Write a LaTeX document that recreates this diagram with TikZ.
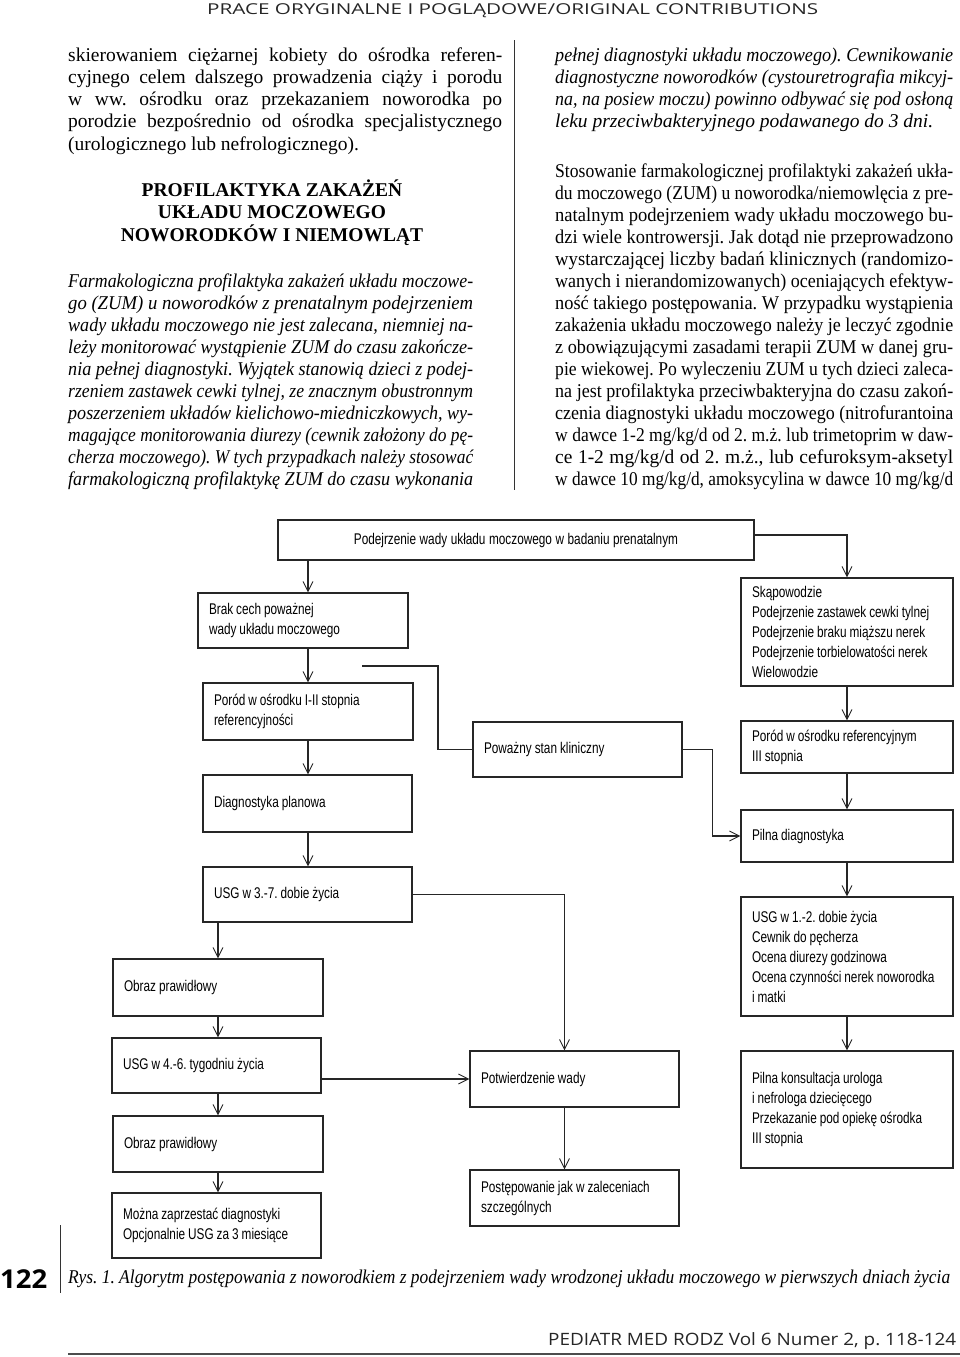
\documentclass[tikz,border=0pt]{standalone}
\usepackage{fontspec}
\usepackage{graphicx}
\usetikzlibrary{arrows.meta,calc}
\setmainfont{Liberation Serif}
\newfontfamily\flowfont[FakeStretch=0.76]{Liberation Sans}
\newfontfamily\hdrfont{Open Sans}
\frenchspacing
\newlength\jlw
\newcommand\jline[2]{\settowidth\jlw{#2}\ifdim\jlw>#1\relax\resizebox{#1}{\height}{#2}\else\makebox[#1][s]{#2}\fi}
\newcommand\fitline[2]{\resizebox{#1}{\height}{#2}}
\newcommand\wsp{\hspace{3.6pt}}
\newcommand\flowbox[7][align=left]{%
  \pgfmathsetlengthmacro\fbw{(#5-#3)*1pt-22pt}%
  \node[box,#1,minimum width={(#5-#3)*1pt},minimum height={(#6-#4)*1pt},text width=\fbw] (#2) at ({(#3+#5)/2},{(#4+#6)/2}) {#7};}
\tikzset{
  box/.style={draw=black!85, line width=1.1pt, inner xsep=11pt, inner ysep=0pt,
    font=\flowfont\fontsize{15.5}{20}\selectfont,
    execute at begin node={\spaceskip=3pt plus 1pt\relax}},
  arr/.style={-{Straight Barb[length=10pt,width=10pt,line width=0.9pt]}, line width=1.1pt, draw=black!85},
  conn/.style={line width=1.1pt, draw=black!85},
  bl/.style={anchor=base west, inner sep=0pt, font=\fontsize{19.5}{22}\selectfont},
  il/.style={anchor=base west, inner sep=0pt, font=\fontsize{19.5}{22}\selectfont\itshape},
  ttl/.style={anchor=base, inner sep=0pt, font=\fontsize{19.5}{22}\selectfont\bfseries}
}
\begin{document}
\begin{tikzpicture}[x=1pt,y=-1pt]
\fill[white] (0,0) rectangle (960,1357);
\useasboundingbox (0,0) rectangle (960,1357);

% header
\node[anchor=base west, inner sep=0pt, font=\hdrfont\fontsize{15}{18}\selectfont, text=black!85] (hdr) at (207,14)
  {\fitline{611pt}{PRACE ORYGINALNE I POGLĄDOWE/ORIGINAL CONTRIBUTIONS}};

% column divider
\draw[line width=1pt, black!80] (514,40) -- (514,490);

% left column, paragraph 1
\node[bl] (a1) at (68,61) {\jline{434pt}{skierowaniem ciężarnej kobiety do ośrodka referen-}};
\node[bl] (a2) at (68,83) {\jline{434pt}{cyjnego celem dalszego prowadzenia ciąży i porodu}};
\node[bl] (a3) at (68,105) {\jline{434pt}{w ww. ośrodku oraz przekazaniem noworodka po}};
\node[bl] (a4) at (68,127) {\jline{434pt}{porodzie bezpośrednio od ośrodka specjalistycznego}};
\node[bl] (a5) at (68,150) {(urologicznego lub nefrologicznego).};

% title
\node[ttl] (t1) at (272,196) {PROFILAKTYKA ZAKAŻEŃ};
\node[ttl] (t2) at (272,218) {UKŁADU MOCZOWEGO};
\node[ttl] (t3) at (272,241) {NOWORODKÓW I NIEMOWLĄT};

% left italic paragraph
\node[il] (b1) at (68,287) {\jline{405pt}{Farmakologiczna profilaktyka zakażeń układu moczowe-}};
\node[il] (b2) at (68,309) {\jline{405pt}{go (ZUM) u noworodków z prenatalnym podejrzeniem}};
\node[il] (b3) at (68,331) {\jline{405pt}{wady układu moczowego nie jest zalecana, niemniej na-}};
\node[il] (b4) at (68,353) {\jline{405pt}{leży monitorować wystąpienie ZUM do czasu zakończe-}};
\node[il] (b5) at (68,375) {\jline{405pt}{nia pełnej diagnostyki. Wyjątek stanowią dzieci z podej-}};
\node[il] (b6) at (68,397) {\jline{405pt}{rzeniem zastawek cewki tylnej, ze znacznym obustronnym}};
\node[il] (b7) at (68,419) {\jline{405pt}{poszerzeniem układów kielichowo-miedniczkowych, wy-}};
\node[il] (b8) at (68,441) {\jline{405pt}{magające monitorowania diurezy (cewnik założony do pę-}};
\node[il] (b9) at (68,463) {\jline{405pt}{cherza moczowego). W tych przypadkach należy stosować}};
\node[il] (b10) at (68,485) {\jline{405pt}{farmakologiczną profilaktykę ZUM do czasu wykonania}};

% right italic paragraph
\node[il] (c1) at (555,61) {\jline{398pt}{pełnej diagnostyki układu moczowego). Cewnikowanie}};
\node[il] (c2) at (555,83) {\jline{398pt}{diagnostyczne noworodków (cystouretrografia mikcyj-}};
\node[il] (c3) at (555,105) {\jline{398pt}{na, na posiew moczu) powinno odbywać się pod osłoną}};
\node[il] (c4) at (555,127) {leku przeciwbakteryjnego podawanego do 3 dni.};

% right roman paragraph
\node[bl] (d1) at (555,177) {\jline{398pt}{Stosowanie farmakologicznej profilaktyki zakażeń ukła-}};
\node[bl] (d2) at (555,199) {\jline{398pt}{du moczowego (ZUM) u noworodka/niemowlęcia z pre-}};
\node[bl] (d3) at (555,221) {\jline{398pt}{natalnym podejrzeniem wady układu moczowego bu-}};
\node[bl] (d4) at (555,243) {\jline{398pt}{dzi wiele kontrowersji. Jak dotąd nie przeprowadzono}};
\node[bl] (d5) at (555,265) {\jline{398pt}{wystarczającej liczby badań klinicznych (randomizo-}};
\node[bl] (d6) at (555,287) {\jline{398pt}{wanych i nierandomizowanych) oceniających efektyw-}};
\node[bl] (d7) at (555,309) {\jline{398pt}{ność takiego postępowania. W przypadku wystąpienia}};
\node[bl] (d8) at (555,331) {\jline{398pt}{zakażenia układu moczowego należy je leczyć zgodnie}};
\node[bl] (d9) at (555,353) {\jline{398pt}{z obowiązującymi zasadami terapii ZUM w danej gru-}};
\node[bl] (d10) at (555,375) {\jline{398pt}{pie wiekowej. Po wyleczeniu ZUM u tych dzieci zaleca-}};
\node[bl] (d11) at (555,397) {\jline{398pt}{na jest profilaktyka przeciwbakteryjna do czasu zakoń-}};
\node[bl] (d12) at (555,419) {\jline{398pt}{czenia diagnostyki układu moczowego (nitrofurantoina}};
\node[bl] (d13) at (555,441) {\jline{398pt}{w dawce 1-2 mg/kg/d od 2. m.ż. lub trimetoprim w daw-}};
\node[bl] (d14) at (555,463) {\jline{398pt}{ce 1-2 mg/kg/d od 2. m.ż., lub cefuroksym-aksetyl}};
\node[bl] (d15) at (555,485) {\jline{398pt}{w dawce 10 mg/kg/d, amoksycylina w dawce 10 mg/kg/d}};

% flowchart boxes
\flowbox[align=center]{top}{278}{520}{754}{560}{Podejrzenie\wsp wady\wsp układu\wsp moczowego\wsp w\wsp badaniu\wsp prenatalnym}
\flowbox{brak}{198}{593}{408}{648}{Brak cech poważnej\\wady układu moczowego}
\flowbox{porod12}{203}{683}{413}{740}{Poród w ośrodku I-II stopnia\\referencyjności}
\flowbox{diag}{203}{775}{412}{832}{Diagnostyka planowa}
\flowbox{usg37}{203}{867}{412}{922}{USG w 3.-7. dobie życia}
\flowbox{obraz1}{113}{959}{323}{1016}{Obraz prawidłowy}
\flowbox{usg46}{112}{1038}{321}{1093}{USG w 4.-6. tygodniu życia}
\flowbox{obraz2}{113}{1116}{323}{1172}{Obraz prawidłowy}
\flowbox{mozna}{112}{1193}{321}{1258}{Można zaprzestać diagnostyki\\Opcjonalnie USG za 3 miesiące}
\flowbox{powazny}{473}{722}{682}{777}{Poważny stan kliniczny}
\flowbox{potw}{470}{1051}{679}{1107}{Potwierdzenie wady}
\flowbox{postep}{470}{1170}{679}{1226}{Postępowanie jak w zaleceniach\\szczególnych}
\flowbox{skap}{741}{578}{953}{686}{Skąpowodzie\\Podejrzenie zastawek cewki tylnej\\Podejrzenie braku miąższu nerek\\Podejrzenie torbielowatości nerek\\Wielowodzie}
\flowbox{porodref}{741}{721}{953}{773}{Poród w ośrodku referencyjnym\\III stopnia}
\flowbox{pilnad}{741}{810}{953}{862}{Pilna diagnostyka}
\flowbox{usg12}{741}{897}{953}{1016}{USG w 1.-2. dobie życia\\Cewnik do pęcherza\\Ocena diurezy godzinowa\\Ocena czynności nerek noworodka\\i matki}
\flowbox{pilnak}{741}{1051}{953}{1168}{Pilna konsultacja urologa\\i nefrologa dziecięcego\\Przekazanie pod opiekę ośrodka\\III stopnia}

% connectors
\draw[arr] (porod12.north |- top.south) -- (porod12.north |- brak.north);
\draw[arr] (porod12.north |- brak.south) -- (porod12.north);
\draw[arr] (porod12.south) -- (porod12.south |- diag.north);
\draw[arr] (porod12.south |- diag.south) -- (porod12.south |- usg37.north);
\draw[arr] (obraz1.north |- usg37.south) -- (obraz1.north);
\draw[arr] (obraz1.south) -- (obraz1.south |- usg46.north);
\draw[arr] (obraz1.south |- usg46.south) -- (obraz1.south |- obraz2.north);
\draw[arr] (obraz1.south |- obraz2.south) -- (obraz1.south |- mozna.north);
\draw[arr] (usg46.east |- potw.west) -- (potw.west);
\coordinate (pv) at ($(potw.north)+(-10,0)$);
\draw[arr] (usg37.east) -| (pv);
\draw[arr] (pv |- potw.south) -- (pv |- postep.north);
\draw[arr] ([yshift=5pt]top.east) -| (skap.north);
\draw[arr] (skap.south) -- (porodref.north);
\draw[arr] (porodref.south) -- (pilnad.north);
\draw[arr] (pilnad.south) -- (usg12.north);
\draw[arr] (usg12.south) -- (pilnak.north);
\coordinate (lstart) at (362,666);
\draw[conn] (lstart) -- (438,666) |- (powazny.west);
\draw[arr] (powazny.east) -- ++(30,0) |- (pilnad.west);

% page number and caption
\node[anchor=base west, inner sep=0pt, font=\hdrfont\bfseries\fontsize{26}{30}\selectfont] (pnum) at (0,1288) {\fitline{47pt}{122}};
\draw[line width=1pt, black!80] (60,1225) -- (60,1293);
\node[il] (cap) at (68,1283) {\fitline{882pt}{Rys. 1. Algorytm postępowania z noworodkiem z podejrzeniem wady wrodzonej układu moczowego w pierwszych dniach życia}};

% footer
\node[anchor=base west, inner sep=0pt, font=\hdrfont\fontsize{17}{20}\selectfont, text=black!85] (ftr) at (548,1345)
  {\fitline{408pt}{PEDIATR MED RODZ Vol 6 Numer 2, p. 118-124}};
\draw[line width=1.5pt, black!70] (68,1354) -- (960,1354);
\end{tikzpicture}
\end{document}
